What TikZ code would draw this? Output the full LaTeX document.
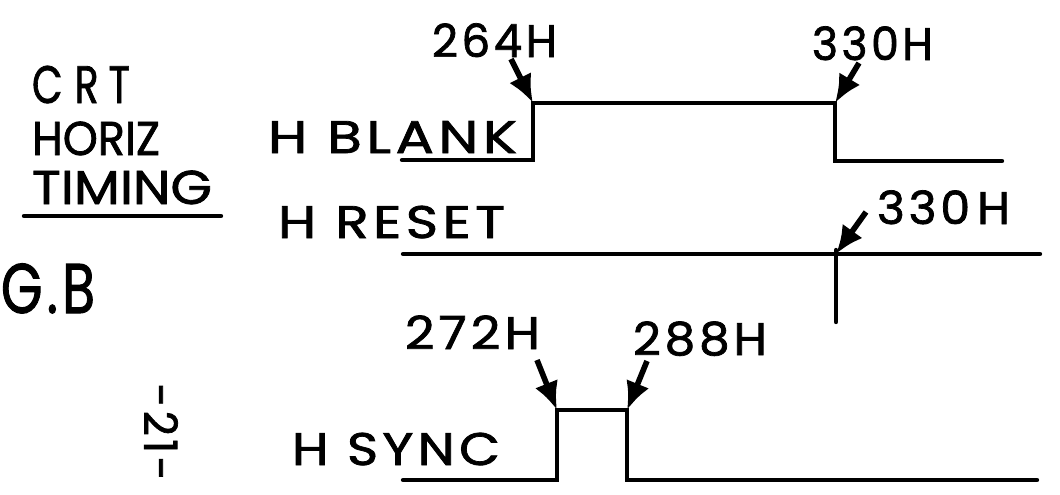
\documentclass[tikz,border=0pt]{standalone}
\usepackage{graphicx}
\usepackage{fontspec}
\setmainfont{Poppins}[FakeBold=1.6,LetterSpace=8]
\usetikzlibrary{arrows.meta}
\newlength\pxu
\setlength\pxu{0.02cm}
\newcommand\fb[2]{\resizebox{#1\pxu}{\height}{#2}}
\begin{document}
\begin{tikzpicture}[x=0.02cm,y=-0.02cm,
  lbl/.style={inner sep=0pt,outer sep=0pt,anchor=base west,font=\fontsize{26}{26}\selectfont},
  tight/.style={font=\fontsize{27}{27}\selectfont\addfontfeatures{LetterSpace=0}},
  wave/.style={line width=2.5pt,line cap=round,line join=miter},
  arr/.style={line width=3.2pt,-{Latex[length=16pt,width=14pt]}},
]
\useasboundingbox (0,0) rectangle (1060,494);
% titles
\node[lbl,font=\fontsize{30}{30}\selectfont\addfontfeatures{LetterSpace=0}] (crt) at (32,103) {\fb{98}{C\hspace{0.3em}R\hspace{0.25em}T}};
\node[lbl,tight] (horiz) at (32,155) {\fb{128}{HORIZ}};
\node[lbl,tight] (timing) at (32,204) {\fb{180}{TIMING}};
\coordinate (ul1) at (24,216);
\coordinate (ul2) at (221,216);
\draw[wave] (ul1) -- (ul2);
\node[lbl,font=\fontsize{40}{40}\selectfont] (fig) at (1,313) {\fb{94}{G.B}};
\node[font=\fontsize{26}{26}\selectfont,rotate=-90,inner sep=0pt] (page) at (161,432) {\fb{97}{-21-}};
% signal names
\node[lbl] (hblank) at (268,153) {\fb{249}{H BLANK}};
\node[lbl] (hreset) at (278,238) {\fb{227}{H RESET}};
\node[lbl] (hsync) at (292,465) {\fb{208}{H SYNC}};
% time labels
\node[lbl] (l264) at (432,57) {\fb{125}{264H}};
\node[lbl] (l330a) at (812,60) {\fb{121}{330H}};
\node[lbl] (l330b) at (877,224) {\fb{133}{330\hspace{0.15em}H}};
\node[lbl] (l272) at (405,349) {\fb{135}{272H}};
\node[lbl] (l288) at (633,355) {\fb{134}{288H}};
% waveforms
\coordinate (b0) at (402,160);
\coordinate (b1) at (533,160);
\coordinate (b2) at (533,103);
\coordinate (b3) at (835,103);
\coordinate (b4) at (835,161);
\coordinate (b5) at (1002,161);
\draw[wave] (b0) -- (b1) -- (b2) -- (b3) -- (b4) -- (b5);
\coordinate (r0) at (403,254);
\coordinate (r1) at (836,254);
\coordinate (r2) at (1040,254);
\coordinate (r3) at (836,250);
\coordinate (r4) at (836,322);
\draw[wave] (r0) -- (r2);
\draw[wave] (r3) -- (r4);
\coordinate (s0) at (403,480);
\coordinate (s1) at (557,480);
\coordinate (s2) at (557,410);
\coordinate (s3) at (627,410);
\coordinate (s4) at (627,480);
\coordinate (s5) at (1037,480);
\draw[wave] (s0) -- (s1) -- (s2) -- (s3) -- (s4) -- (s5);
% arrows
\coordinate (t264) at (511,59);
\coordinate (t330a) at (859,63);
\coordinate (t330b) at (866,212);
\coordinate (t272) at (537,360);
\coordinate (t288) at (647,361);
\draw[arr] (t264) -- (b2);
\draw[arr] (t330a) -- (b3);
\draw[arr] (t330b) -- (r1);
\draw[arr] (t272) -- (s2);
\draw[arr] (t288) -- (s3);
\end{tikzpicture}
\end{document}
